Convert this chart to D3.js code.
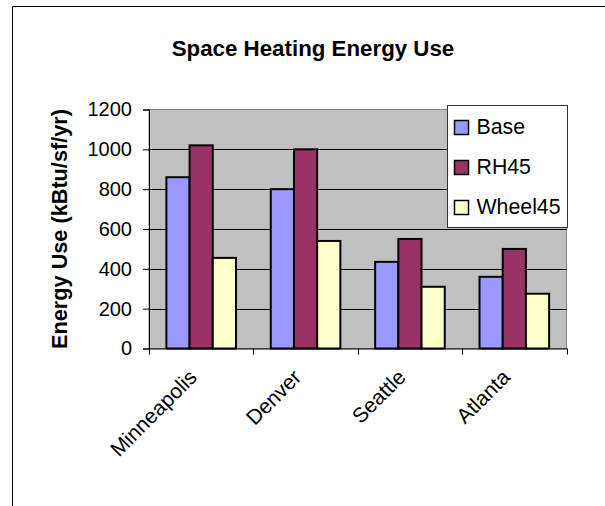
<!DOCTYPE html>
<html>
<head>
<meta charset="utf-8">
<script src="https://cdn.jsdelivr.net/npm/d3@7"></script>
<style>
html,body{margin:0;padding:0;background:#fff;}
text{font-family:"Liberation Sans",Arial,sans-serif;fill:#000;}
</style>
</head>
<body>
<svg id="chart" width="605" height="506"></svg>
<script>
const categories = ["Minneapolis", "Denver", "Seattle", "Atlanta"];
const seriesNames = ["Base", "RH45", "Wheel45"];
const baseValues = [860, 800, 435, 360];
const rh45Values = [1020, 1000, 550, 500];
const wheel45Values = [455, 540, 310, 275];
const yTicks = [0, 200, 400, 600, 800, 1000, 1200];
const seriesColors = ["#9999FF", "#993366", "#FFFFCC"];

(function () {
const seriesValues = [baseValues, rh45Values, wheel45Values];
const svg = d3.select("#chart");

// outer frame
svg.append("path").attr("d", "M12.5,506 V6.5 H605").attr("fill", "none").attr("stroke", "#000").attr("stroke-width", 1);

const pL = 149, pR = 566.5, pT = 109.5, pB = 348.5;
const x0 = d3.scaleBand().domain(categories).range([pL, pR]).paddingInner(0).paddingOuter(0);
const bw = x0.bandwidth() / 4.5;
const x1 = d3.scaleBand().domain(seriesNames).range([0, bw * 3]);
const y = d3.scaleLinear().domain([0, 1200]).range([pB, pT]);

// plot background
svg.append("rect").attr("x", pL).attr("y", pT).attr("width", pR - pL).attr("height", pB - pT)
  .attr("fill", "#C0C0C0").attr("stroke", "#808080").attr("stroke-width", 1);

// gridlines
svg.append("g").selectAll("line").data(yTicks.filter(d => d > 0 && d < 1200)).join("line")
  .attr("x1", pL).attr("x2", pR)
  .attr("y1", d => Math.round(y(d)) + 0.5).attr("y2", d => Math.round(y(d)) + 0.5)
  .attr("stroke", "#000").attr("stroke-width", 1);

// bars
const groups = svg.append("g").selectAll("g").data(categories).join("g")
  .attr("transform", c => `translate(${x0(c) + bw * 0.75},0)`);
groups.selectAll("rect").data((c, i) => seriesNames.map((s, j) => ({s, v: seriesValues[j][i], j}))).join("rect")
  .attr("x", d => x1(d.s))
  .attr("y", d => y(d.v))
  .attr("width", x1.bandwidth())
  .attr("height", d => pB - y(d.v))
  .attr("fill", d => seriesColors[d.j])
  .attr("stroke", "#000").attr("stroke-width", 2);

// y axis
const yAxis = d3.axisLeft(y).tickValues(yTicks).tickFormat(d3.format("d")).tickSize(6).tickPadding(11);
const gy = svg.append("g").attr("transform", `translate(${pL},0)`).call(yAxis);
gy.select(".domain").attr("stroke", "#000");
gy.selectAll("text").style("font-size", "20px").style("font-family", "'Liberation Sans', Arial, sans-serif");

// x axis
const xAxis = d3.axisBottom(x0).tickSize(0).tickFormat("");
const gx = svg.append("g").attr("transform", `translate(0,${pB})`).call(xAxis);
gx.select(".domain").attr("stroke", "#000");
gx.selectAll(".tick").remove();
const bounds = categories.map(c => x0(c)).concat([pR]);
gx.selectAll("line.sep").data(bounds).join("line").attr("class", "sep")
  .attr("x1", d => Math.round(d) + 0.5).attr("x2", d => Math.round(d) + 0.5)
  .attr("y1", 0).attr("y2", 6).attr("stroke", "#000");

// category labels
svg.append("g").selectAll("text").data(categories).join("text")
  .attr("transform", c => `translate(${x0(c) + x0.bandwidth() / 2 - 3},${pB + 30}) rotate(-45)`)
  .attr("text-anchor", "end")
  .style("font-size", "21px")
  .text(c => c);

// title
svg.append("text").attr("x", 313).attr("y", 56).attr("text-anchor", "middle")
  .style("font-size", "22.3px").style("font-weight", "bold").text("Space Heating Energy Use");

// y title
svg.append("text").attr("transform", `translate(67,${(pT + pB) / 2}) rotate(-90)`).attr("text-anchor", "middle")
  .style("font-size", "21.7px").style("font-weight", "bold").text("Energy Use (kBtu/sf/yr)");

// legend
const lg = svg.append("g").attr("transform", "translate(447.5,105.5)");
lg.append("rect").attr("width", 120).attr("height", 122).attr("fill", "#fff").attr("stroke", "#333").attr("stroke-width", 1);
const items = lg.selectAll("g").data(seriesNames).join("g").attr("transform", (d, i) => `translate(7,${15 + i * 40})`);
items.append("rect").attr("width", 14).attr("height", 14).attr("fill", (d, i) => seriesColors[i]).attr("stroke", "#000").attr("stroke-width", 1.5);
items.append("text").attr("x", 22).attr("y", 13).style("font-size", "21.3px").text(d => d);
})();
</script>
</body>
</html>
